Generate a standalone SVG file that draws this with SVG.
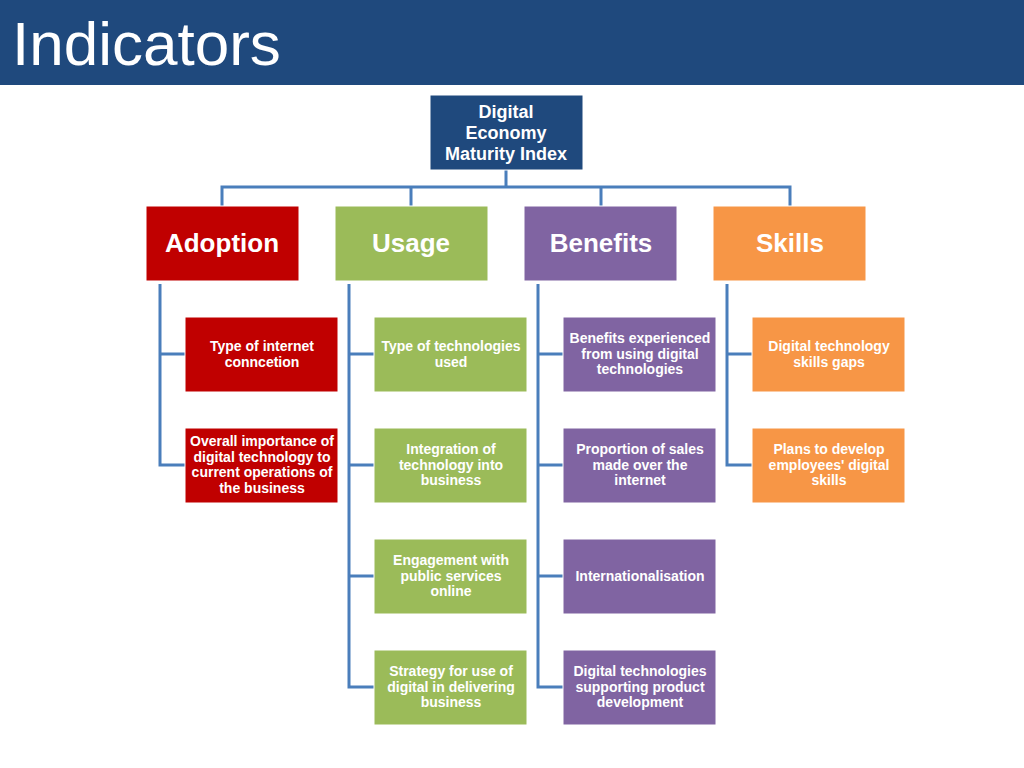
<svg xmlns="http://www.w3.org/2000/svg" width="1024" height="768" viewBox="0 0 1024 768">
<style>
.t{font-family:"Liberation Sans",Arial,sans-serif;fill:#fff;font-weight:bold;text-anchor:middle}
.c{font-size:14px}
.h{font-size:26px}
.b{stroke:#fff;stroke-width:1}
.ln{stroke:#4A7EBB;stroke-width:3;fill:none}
</style>
<rect width="1024" height="768" fill="#fff"/>
<rect width="1024" height="85" fill="#1F497D"/>
<text x="12" y="65" font-family="Liberation Sans,Arial,sans-serif" font-size="62" fill="#fff">Indicators</text>
<g id="connectors">
<path class="ln" d="M506 170V187M222 206V187H790V206M411 187V206M601 187V206"/>
<path class="ln" d="M160 284V465H185M160 354H185"/>
<path class="ln" d="M349 284V687H374M349 354H374M349 465H374M349 576H374"/>
<path class="ln" d="M538 284V687H563M538 354H563M538 465H563M538 576H563"/>
<path class="ln" d="M727 284V465H752M727 354H752"/>
</g>
<g id="root"><rect class="b" x="430" y="95" width="153" height="75" fill="#1F497D"/>
<text class="t" font-size="18"><tspan x="506" y="118">Digital</tspan><tspan x="506" y="139">Economy</tspan><tspan x="506" y="160">Maturity Index</tspan></text></g>
<g id="adoption"><rect class="b" x="146" y="206" width="153" height="75" fill="#C00000"/><text class="t h" x="222" y="252">Adoption</text></g>
<g id="usage"><rect class="b" x="335" y="206" width="153" height="75" fill="#9BBB59"/><text class="t h" x="411" y="252">Usage</text></g>
<g id="benefits"><rect class="b" x="524" y="206" width="153" height="75" fill="#8064A2"/><text class="t h" x="601" y="252">Benefits</text></g>
<g id="skills"><rect class="b" x="713" y="206" width="153" height="75" fill="#F79646"/><text class="t h" x="790" y="252">Skills</text></g>
<g id="a1"><rect class="b" x="185" y="317" width="153" height="75" fill="#C00000"/><text class="t c"><tspan x="262" y="351">Type of internet</tspan><tspan x="262" y="367">conncetion</tspan></text></g>
<g id="a2"><rect class="b" x="185" y="428" width="153" height="75" fill="#C00000"/><text class="t c"><tspan x="262" y="446">Overall importance of</tspan><tspan x="262" y="462">digital technology to</tspan><tspan x="262" y="477">current operations of</tspan><tspan x="262" y="493">the business</tspan></text></g>
<g id="u1"><rect class="b" x="374" y="317" width="153" height="75" fill="#9BBB59"/><text class="t c"><tspan x="451" y="351">Type of technologies</tspan><tspan x="451" y="367">used</tspan></text></g>
<g id="u2"><rect class="b" x="374" y="428" width="153" height="75" fill="#9BBB59"/><text class="t c"><tspan x="451" y="454">Integration of</tspan><tspan x="451" y="470">technology into</tspan><tspan x="451" y="485">business</tspan></text></g>
<g id="u3"><rect class="b" x="374" y="539" width="153" height="75" fill="#9BBB59"/><text class="t c"><tspan x="451" y="565">Engagement with</tspan><tspan x="451" y="581">public services</tspan><tspan x="451" y="596">online</tspan></text></g>
<g id="u4"><rect class="b" x="374" y="650" width="153" height="75" fill="#9BBB59"/><text class="t c"><tspan x="451" y="676">Strategy for use of</tspan><tspan x="451" y="692">digital in delivering</tspan><tspan x="451" y="707">business</tspan></text></g>
<g id="b1"><rect class="b" x="563" y="317" width="153" height="75" fill="#8064A2"/><text class="t c"><tspan x="640" y="343">Benefits experienced</tspan><tspan x="640" y="359">from using digital</tspan><tspan x="640" y="374">technologies</tspan></text></g>
<g id="b2"><rect class="b" x="563" y="428" width="153" height="75" fill="#8064A2"/><text class="t c"><tspan x="640" y="454">Proportion of sales</tspan><tspan x="640" y="470">made over the</tspan><tspan x="640" y="485">internet</tspan></text></g>
<g id="b3"><rect class="b" x="563" y="539" width="153" height="75" fill="#8064A2"/><text class="t c" x="640" y="581">Internationalisation</text></g>
<g id="b4"><rect class="b" x="563" y="650" width="153" height="75" fill="#8064A2"/><text class="t c"><tspan x="640" y="676">Digital technologies</tspan><tspan x="640" y="692">supporting product</tspan><tspan x="640" y="707">development</tspan></text></g>
<g id="s1"><rect class="b" x="752" y="317" width="153" height="75" fill="#F79646"/><text class="t c"><tspan x="829" y="351">Digital technology</tspan><tspan x="829" y="367">skills gaps</tspan></text></g>
<g id="s2"><rect class="b" x="752" y="428" width="153" height="75" fill="#F79646"/><text class="t c"><tspan x="829" y="454">Plans to develop</tspan><tspan x="829" y="470">employees' digital</tspan><tspan x="829" y="485">skills</tspan></text></g>
</svg>
